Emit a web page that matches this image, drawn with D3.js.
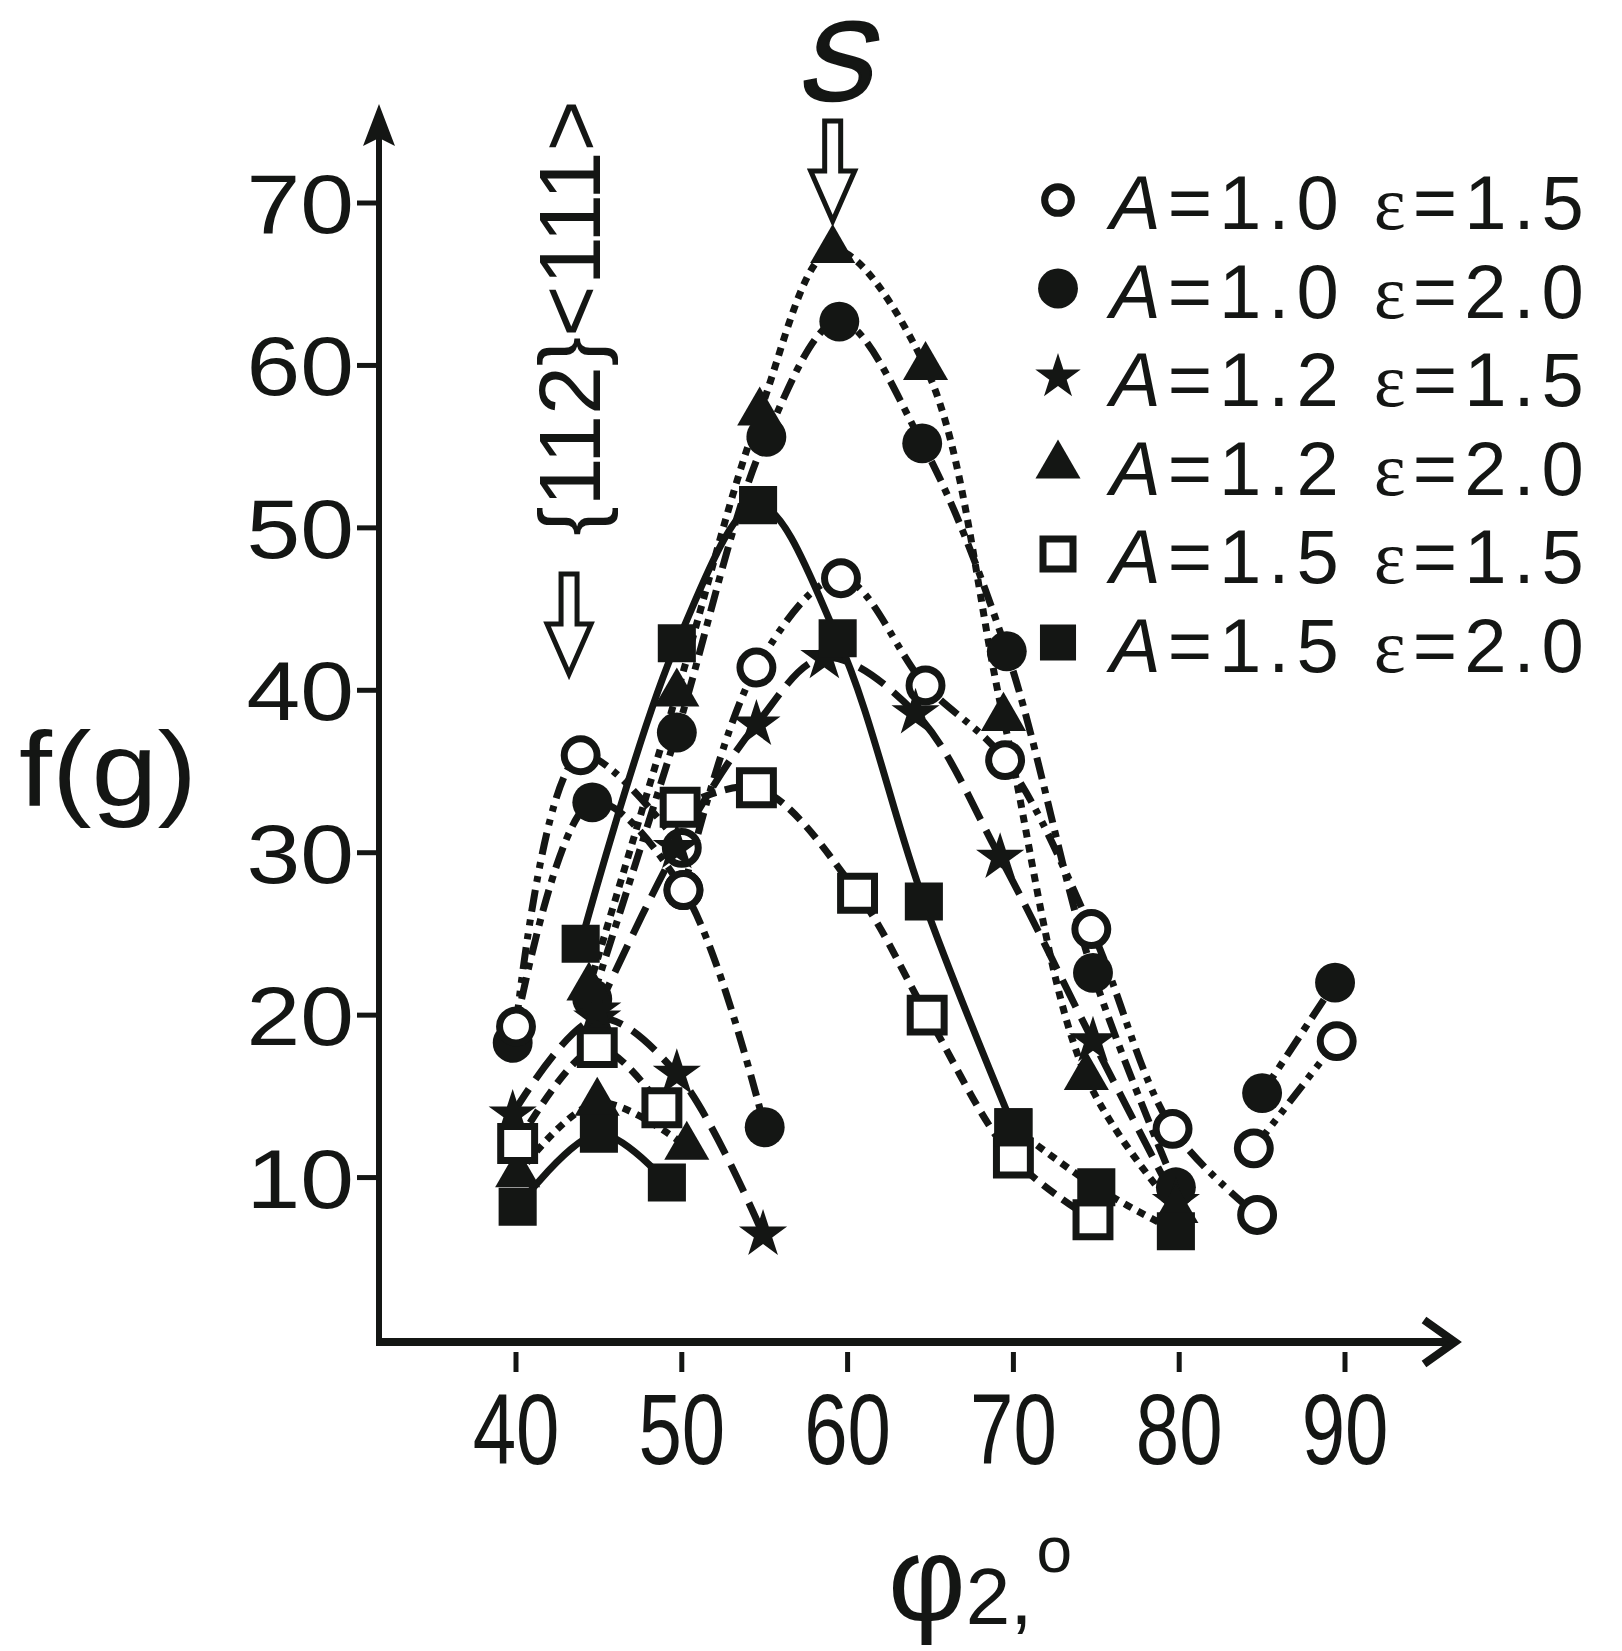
<!DOCTYPE html>
<html>
<head>
<meta charset="utf-8">
<script src="https://cdn.jsdelivr.net/npm/d3@7"></script>
<style>
html,body{margin:0;padding:0;background:#fff;}
svg{display:block;}
text{font-family:"Liberation Sans",Arial,sans-serif;fill:#141614;}
</style>
</head>
<body>
<svg id="chart" width="1622" height="1651"></svg>
<script>
// ---------- data ----------
const xTicks = [40, 50, 60, 70, 80, 90];
const yTicks = [10, 20, 30, 40, 50, 60, 70];
const legendA   = ["1.0", "1.0", "1.2", "1.2", "1.5", "1.5"];
const legendEps = ["1.5", "2.0", "1.5", "2.0", "1.5", "2.0"];

// A=1.0 eps=1.5 (open circles)
const openCircleLeft  = [[40.0,19.3],[43.9,36.0],[50.0,30.3]];
const openCircleMain  = [[50.1,27.7],[54.5,41.4],[59.6,46.9],[64.7,40.3],[69.5,35.7],[74.7,25.3],[79.6,13.0],[84.7,7.7]];
const openCircleRight = [[84.5,11.8],[89.5,18.4]];
// A=1.0 eps=2.0 (filled circles)
const fillCircleLeft  = [[39.8,18.3],[44.6,33.1],[50.1,27.7],[55.0,13.1]];
const fillCircleMain  = [[44.6,21.0],[49.7,37.4],[55.1,55.6],[59.5,62.7],[64.5,55.2],[69.6,42.4],[74.8,22.6],[79.8,9.4]];
const fillCircleRight = [[85.0,15.2],[89.4,22.0]];
// A=1.2 eps=1.5 (stars)
const starLeft = [[39.8,13.9],[44.9,19.8],[49.7,16.4],[54.9,6.5]];
const starMain = [[44.9,20.3],[49.7,30.3],[54.5,37.9],[58.6,42.0],[64.1,38.6],[69.2,29.7],[74.8,18.4],[79.8,8.5]];
// A=1.2 eps=2.0 (triangles)
const triLeft = [[40.1,10.2],[44.9,14.6],[50.3,11.9]];
const triMain = [[44.4,21.7],[49.7,39.8],[54.7,57.1],[59.1,67.1],[64.7,59.9],[69.4,38.3],[74.4,16.2],[79.8,8.0]];
// A=1.5 eps=1.5 (open squares)
const openSqLeft = [[40.1,12.1],[44.9,18.0],[48.8,14.3]];
const openSqMain = [[49.9,32.8],[54.5,34.0],[60.6,27.5],[64.8,20.0],[70.0,11.2],[74.8,7.4]];
// A=1.5 eps=2.0 (filled squares)
const fillSqLeft = [[40.1,8.2],[45.0,12.7],[49.1,9.7]];
const fillSqMain = [[43.9,24.4],[49.7,42.9],[54.6,51.4],[59.4,43.2],[64.6,27.0],[70.0,13.1]];
const fillSqTail = [[70.0,13.1],[75.0,9.4],[79.8,6.7]];

// annotation positions (phi2 values)
const sPhi = 59.1;
const texPhi = 43.2;

// ---------- drawing ----------
const ink = "#141614";
const svg = d3.select("#chart");
svg.append("rect").attr("width",1622).attr("height",1651).attr("fill","#fff");

const x = d3.scaleLinear().domain([40, 90]).range([516, 1345]);
const y = d3.scaleLinear().domain([0, 70]).range([1340, 203]);

const DOT = "8,7", SDASH = "15,9", LDASH = "30,12", DASHDOT = "22,8,7,8", DASHDOTDOT = "22,8,6,8,6,8";

const series = [
  {name:"fc", branches:[[fillCircleLeft,DASHDOT],[fillCircleMain,DASHDOT],[fillCircleRight,DASHDOT]], sym:d3.symbolCircle, size:1250, filled:true},
  {name:"oc", branches:[[openCircleLeft,DASHDOTDOT],[openCircleMain,DASHDOTDOT],[openCircleRight,DASHDOTDOT]], sym:d3.symbolCircle, size:850, filled:false},
  {name:"st", branches:[[starLeft,LDASH],[starMain,LDASH]], sym:d3.symbolStar, size:720, filled:true},
  {name:"tr", branches:[[triLeft,DOT],[triMain,DOT]], sym:d3.symbolTriangle, size:880, filled:true},
  {name:"os", branches:[[openSqLeft,SDASH],[openSqMain,SDASH]], sym:d3.symbolSquare, size:1150, filled:false},
  {name:"fs", branches:[[fillSqLeft,null],[fillSqMain,null],[fillSqTail,DOT]], sym:d3.symbolSquare, size:1450, filled:true}
];

const line = d3.line().x(d=>x(d[0])).y(d=>y(d[1])).curve(d3.curveCatmullRom.alpha(0.5));

const gLines = svg.append("g");
series.forEach(s=>{
  s.branches.forEach(([pts,dash])=>{
    gLines.append("path").attr("d", line(pts))
      .attr("fill","none").attr("stroke",ink).attr("stroke-width",7)
      .attr("stroke-dasharray", dash)
      .attr("stroke-linecap","butt");
  });
});

const gMarks = svg.append("g");
series.forEach(s=>{
  const pts = s.branches.flatMap(b=>b[0]);
  const gen = d3.symbol().type(s.sym).size(s.size);
  gMarks.selectAll(null).data(pts).enter().append("path")
    .attr("d", gen)
    .attr("transform", d=>`translate(${x(d[0])},${y(d[1])})`)
    .attr("fill", s.filled ? ink : "#fff")
    .attr("stroke", s.filled ? "none" : ink)
    .attr("stroke-width", s.filled ? 0 : 7);
});

// ---------- axes ----------
const yAxisY = 1342;
svg.append("line").attr("x1",379).attr("x2",379).attr("y1",1345).attr("y2",130)
  .attr("stroke",ink).attr("stroke-width",6);
svg.append("path").attr("d","M379,104 L395,146 L379,138 L363,146 Z").attr("fill",ink);
svg.append("line").attr("x1",376).attr("x2",1452).attr("y1",yAxisY).attr("y2",yAxisY)
  .attr("stroke",ink).attr("stroke-width",8);
svg.append("path").attr("d",`M1424,${yAxisY-22} L1455,${yAxisY} L1424,${yAxisY+22}`)
  .attr("fill","none").attr("stroke",ink).attr("stroke-width",8);

// y ticks
svg.append("g").selectAll("line").data(yTicks).enter().append("line")
  .attr("x1",357).attr("x2",379).attr("y1",d=>y(d)).attr("y2",d=>y(d))
  .attr("stroke",ink).attr("stroke-width",5);
svg.append("g").selectAll("text").data(yTicks).enter().append("text")
  .attr("transform",d=>`translate(354,${y(d)+30}) scale(1.15,1)`)
  .attr("text-anchor","end").attr("font-size",84).text(d=>d);

// x ticks
svg.append("g").selectAll("line").data(xTicks).enter().append("line")
  .attr("x1",d=>x(d)).attr("x2",d=>x(d)).attr("y1",yAxisY+10).attr("y2",yAxisY+30)
  .attr("stroke",ink).attr("stroke-width",5);
svg.append("g").selectAll("text").data(xTicks).enter().append("text")
  .attr("transform",d=>`translate(${x(d)},1464) scale(0.78,1)`)
  .attr("text-anchor","middle").attr("font-size",100).text(d=>d);

// axis titles
svg.append("text").attr("transform","translate(108,806) scale(1.12,1)")
  .attr("text-anchor","middle").attr("font-size",106).text("f(g)");

const xt = svg.append("text").attr("transform","translate(888,1620)");
xt.append("tspan").attr("font-size",120).text("φ");
xt.append("tspan").attr("font-size",80).attr("dy",4).text("2");
xt.append("tspan").attr("font-size",80).text(",");
xt.append("tspan").attr("font-size",64).attr("dy",-52).attr("dx",4).text("o");

// ---------- annotations ----------
function hollowArrow(cx, top, tip){
  const shaftW = 8, headW = 22, shaftLen = (tip-top)*0.5;
  const p = `M${cx-shaftW},${top} L${cx+shaftW},${top} L${cx+shaftW},${top+shaftLen} L${cx+headW},${top+shaftLen} L${cx},${tip} L${cx-headW},${top+shaftLen} L${cx-shaftW},${top+shaftLen} Z`;
  svg.append("path").attr("d",p).attr("fill","#fff").attr("stroke",ink).attr("stroke-width",5).attr("stroke-linejoin","miter");
}
hollowArrow(x(sPhi), 121, 221);
hollowArrow(x(texPhi), 574, 674);

svg.append("text").attr("transform",`translate(${x(sPhi)},100) skewX(-14)`)
  .attr("text-anchor","middle").attr("font-size",112)
  .attr("stroke",ink).attr("stroke-width",2.5).text("S");

svg.append("text").attr("transform",`translate(${x(texPhi)+31},318) rotate(-90)`)
  .attr("text-anchor","middle").attr("font-size",88).text("{112}<111>");

// ---------- legend ----------
const legSyms = [
  {sym:d3.symbolCircle, size:560, filled:false},
  {sym:d3.symbolCircle, size:1250, filled:true},
  {sym:d3.symbolStar, size:640, filled:true},
  {sym:d3.symbolTriangle, size:880, filled:true},
  {sym:d3.symbolSquare, size:900, filled:false},
  {sym:d3.symbolSquare, size:1300, filled:true}
];
const leg = svg.append("g");
legendA.forEach((a,i)=>{
  const cy = 200 + i*88.5;
  const s = legSyms[i];
  leg.append("path").attr("d", d3.symbol().type(s.sym).size(s.size))
    .attr("transform",`translate(1058,${cy})`)
    .attr("fill", s.filled?ink:"#fff").attr("stroke", s.filled?"none":ink).attr("stroke-width",7);
  const t = leg.append("text").attr("x",1110).attr("y",cy+29).attr("font-size",76)
    .attr("letter-spacing",7);
  t.append("tspan").attr("font-style","italic").text("A");
  t.append("tspan").text("=" + a + " ");
  t.append("tspan").attr("font-family","Liberation Serif, serif").text("ε");
  t.append("tspan").text("=" + legendEps[i]);
});
</script>
</body>
</html>
